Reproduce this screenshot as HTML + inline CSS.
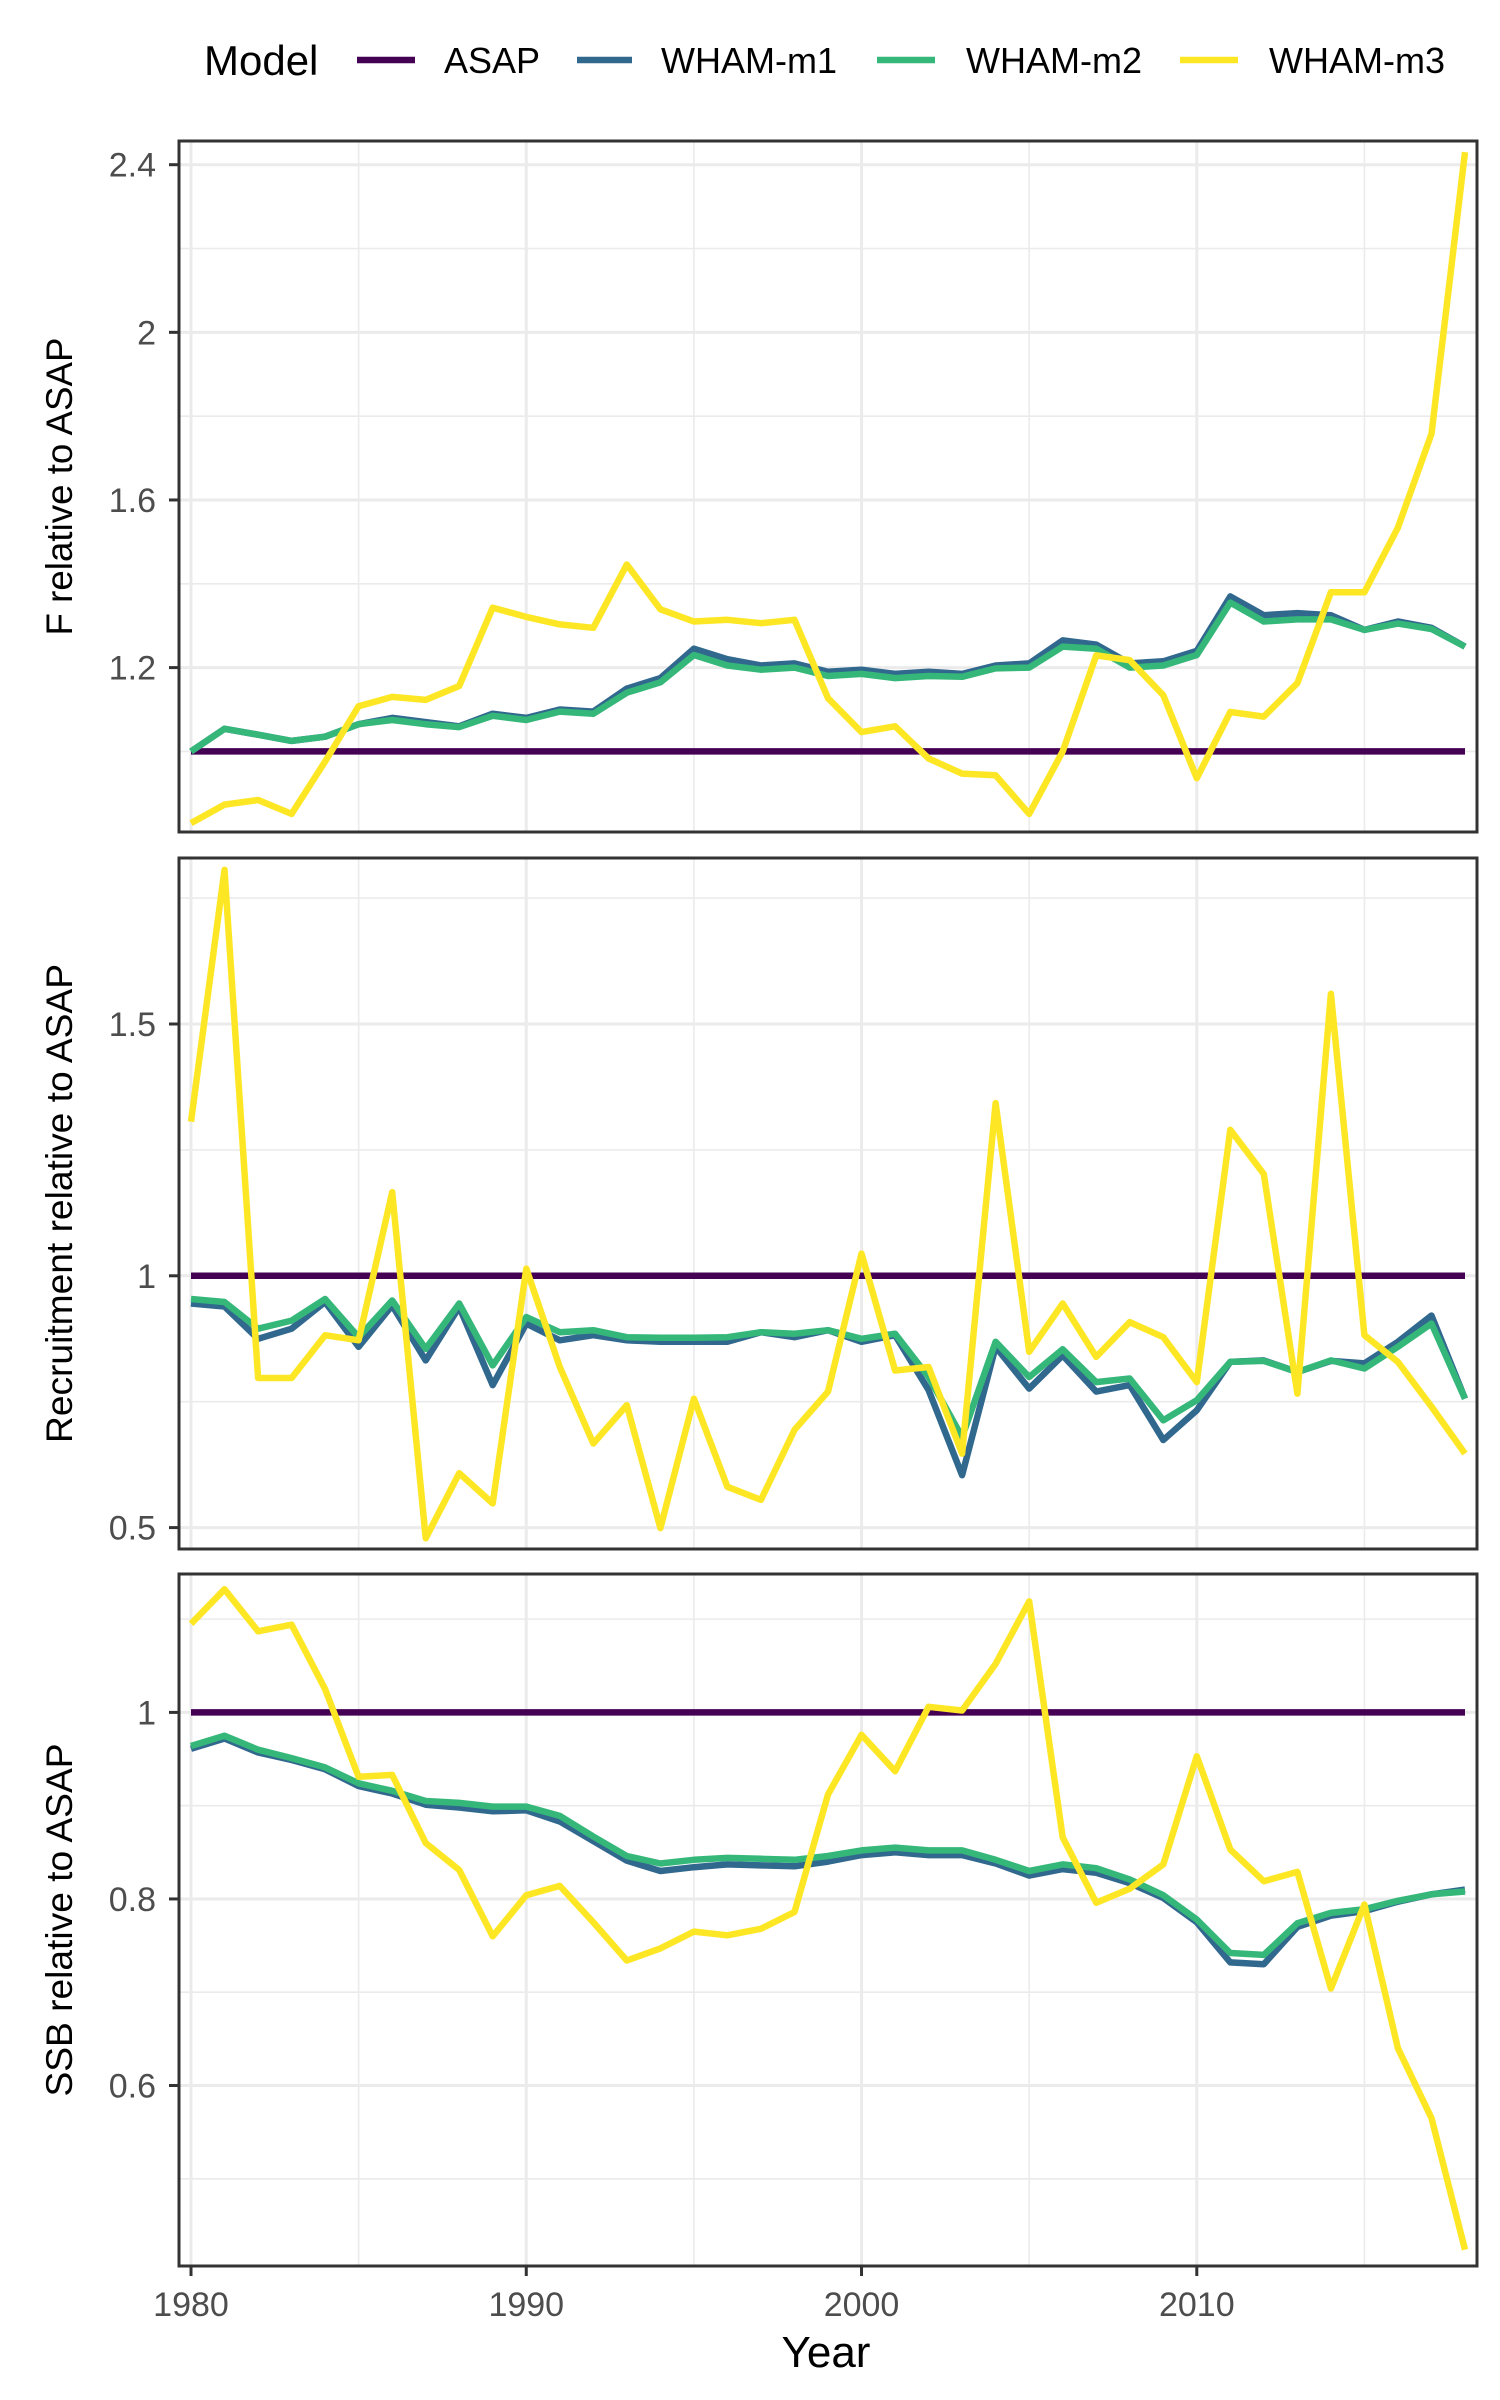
<!DOCTYPE html>
<html><head><meta charset="utf-8"><style>
html,body{margin:0;padding:0;background:#fff;}
svg{display:block;font-family:"Liberation Sans",Arial,sans-serif;}
</style></head><body>
<svg id="chart" width="1500" height="2400" viewBox="0 0 1500 2400"></svg>
<script>
const years = [];
for (let y = 1980; y <= 2018; y++) years.push(y);
const modelNames = ["ASAP","WHAM-m1","WHAM-m2","WHAM-m3"];
const modelColors = ["#440154","#31688E","#35B779","#FDE725"];

const fAsap = years.map(() => 1);
const fM1 = [1.0,1.054,1.04,1.025,1.035,1.065,1.08,1.07,1.06,1.09,1.08,1.10,1.095,1.15,1.175,1.245,1.22,1.205,1.21,1.19,1.195,1.185,1.19,1.185,1.205,1.21,1.265,1.255,1.21,1.215,1.24,1.37,1.325,1.33,1.325,1.29,1.31,1.295,1.25];
const fM2 = [1.0,1.054,1.04,1.025,1.035,1.065,1.075,1.065,1.058,1.085,1.075,1.095,1.09,1.14,1.165,1.23,1.205,1.195,1.2,1.18,1.185,1.175,1.18,1.178,1.198,1.2,1.25,1.245,1.2,1.205,1.23,1.355,1.31,1.315,1.315,1.29,1.305,1.292,1.25];
const fM3 = [0.829,0.873,0.884,0.851,0.976,1.108,1.13,1.123,1.156,1.343,1.321,1.303,1.295,1.446,1.339,1.31,1.314,1.306,1.314,1.127,1.046,1.06,0.983,0.947,0.943,0.851,1.0,1.229,1.218,1.134,0.936,1.094,1.083,1.163,1.38,1.38,1.534,1.758,2.43];

const rAsap = years.map(() => 1);
const rM1 = [0.945,0.939,0.875,0.895,0.948,0.859,0.941,0.832,0.938,0.783,0.905,0.872,0.882,0.872,0.869,0.869,0.869,0.888,0.878,0.892,0.869,0.882,0.773,0.604,0.859,0.776,0.842,0.77,0.783,0.674,0.733,0.829,0.832,0.809,0.831,0.826,0.869,0.921,0.756];
const rM2 = [0.954,0.948,0.895,0.911,0.954,0.878,0.951,0.855,0.945,0.822,0.918,0.888,0.892,0.878,0.877,0.877,0.878,0.888,0.885,0.892,0.875,0.885,0.799,0.68,0.869,0.799,0.854,0.789,0.796,0.713,0.753,0.829,0.831,0.809,0.832,0.816,0.859,0.905,0.756];
const rM3 = [1.306,1.806,0.797,0.797,0.882,0.872,1.166,0.479,0.608,0.548,1.014,0.819,0.667,0.743,0.499,0.756,0.581,0.555,0.694,0.77,1.044,0.812,0.819,0.647,1.343,0.849,0.945,0.839,0.908,0.878,0.789,1.29,1.202,0.766,1.56,0.882,0.829,0.74,0.647];

const sAsap = years.map(() => 1);
const sM1 = [0.961,0.972,0.957,0.949,0.939,0.921,0.913,0.901,0.898,0.894,0.895,0.883,0.862,0.841,0.830,0.834,0.837,0.836,0.835,0.840,0.847,0.850,0.847,0.847,0.838,0.825,0.832,0.828,0.817,0.801,0.775,0.732,0.730,0.770,0.782,0.787,0.797,0.805,0.810];
const sM2 = [0.964,0.975,0.960,0.951,0.941,0.924,0.916,0.905,0.903,0.899,0.899,0.889,0.867,0.846,0.838,0.842,0.844,0.843,0.842,0.846,0.852,0.855,0.852,0.852,0.842,0.830,0.837,0.833,0.821,0.804,0.778,0.742,0.740,0.774,0.785,0.789,0.798,0.805,0.808];
const sM3 = [1.095,1.132,1.087,1.094,1.025,0.931,0.933,0.860,0.831,0.760,0.804,0.814,0.775,0.734,0.747,0.765,0.761,0.768,0.786,0.912,0.976,0.937,1.006,1.002,1.052,1.119,0.866,0.796,0.811,0.837,0.953,0.853,0.819,0.829,0.704,0.794,0.640,0.565,0.424];

const fTicks = [1.2,1.6,2.0,2.4];
const fTickLabels = ["1.2","1.6","2","2.4"];
const fMinor = [1.0,1.4,1.8,2.2];
const rTicks = [0.5,1.0,1.5];
const rTickLabels = ["0.5","1","1.5"];
const rMinor = [0.75,1.25,1.75];
const sTicks = [0.6,0.8,1.0];
const sTickLabels = ["0.6","0.8","1"];
const sMinor = [0.5,0.7,0.9,1.1];
const xTicks = [1980,1990,2000,2010];
const xTickLabels = ["1980","1990","2000","2010"];
const xMinor = [1985,1995,2005,2015];

const NS = "http://www.w3.org/2000/svg";
const svg = document.getElementById("chart");
function mk(tag, attrs, parent) {
  const e = document.createElementNS(NS, tag);
  for (const k in attrs) e.setAttribute(k, attrs[k]);
  (parent || svg).appendChild(e);
  return e;
}
const PL = 179, PR = 1477;
function xScale(yr) { return 191 + (yr - 1980) * (1465 - 191) / 38; }

const panels = [
  {name:"f-panel", title:"F relative to ASAP", top:141, bottom:832, v1:1.2, p1:667.6, v2:2.4, p2:164.7,
   ticks:fTicks, labels:fTickLabels, minor:fMinor, series:[fAsap,fM1,fM2,fM3], tl:298},
  {name:"recruitment-panel", title:"Recruitment relative to ASAP", top:858, bottom:1549, v1:0.5, p1:1527.6, v2:1.5, p2:1024,
   ticks:rTicks, labels:rTickLabels, minor:rMinor, series:[rAsap,rM1,rM2,rM3], tl:479},
  {name:"ssb-panel", title:"SSB relative to ASAP", top:1574, bottom:2266, v1:0.6, p1:2085.5, v2:1.0, p2:1712.4,
   ticks:sTicks, labels:sTickLabels, minor:sMinor, series:[sAsap,sM1,sM2,sM3], tl:353}
];

panels.forEach((p, pi) => {
  const g = mk("g", {});
  
  
  const yS = v => p.p1 + (v - p.v1) * (p.p2 - p.p1) / (p.v2 - p.v1);
  mk("rect", {x:PL, y:p.top, width:PR-PL, height:p.bottom-p.top, fill:"#fff"}, g);
  const clip = mk("clipPath", {id:"clip"+pi}, g);
  mk("rect", {x:PL, y:p.top, width:PR-PL, height:p.bottom-p.top}, clip);
  p.minor.forEach(v => { const y = yS(v); if (y > p.top && y < p.bottom) mk("line", {x1:PL, x2:PR, y1:y, y2:y, stroke:"#ebebeb", "stroke-width":1.6}, g); });
  xMinor.forEach(v => mk("line", {x1:xScale(v), x2:xScale(v), y1:p.top, y2:p.bottom, stroke:"#ebebeb", "stroke-width":1.6}, g));
  p.ticks.forEach(v => mk("line", {x1:PL, x2:PR, y1:yS(v), y2:yS(v), stroke:"#ebebeb", "stroke-width":3}, g));
  xTicks.forEach(v => mk("line", {x1:xScale(v), x2:xScale(v), y1:p.top, y2:p.bottom, stroke:"#ebebeb", "stroke-width":3}, g));
  const lg = mk("g", {"clip-path":"url(#clip"+pi+")"}, g);
  p.series.forEach((s, si) => {
    const d = s.map((v, i) => (i ? "L" : "M") + xScale(years[i]).toFixed(1) + "," + yS(v).toFixed(1)).join("");
    const path = mk("path", {d:d, fill:"none", stroke:modelColors[si], "stroke-width":6.5, "stroke-linejoin":"round"}, lg);
    
    
  });
  mk("rect", {x:PL, y:p.top, width:PR-PL, height:p.bottom-p.top, fill:"none", stroke:"#333", "stroke-width":3}, g);
  p.ticks.forEach((v, i) => {
    mk("line", {x1:PL-10, x2:PL, y1:yS(v), y2:yS(v), stroke:"#333", "stroke-width":3}, g);
    const t = mk("text", {x:156, y:yS(v)+12, "text-anchor":"end", "font-size":34, fill:"#4d4d4d"}, g);
    t.textContent = p.labels[i];
    
    
  });
  const cy = (p.top + p.bottom) / 2;
  const tt = mk("text", {x:0, y:0, transform:"translate(72,"+cy+") rotate(-90)", "text-anchor":"middle", "font-size":37, fill:"#000", textLength:p.tl, lengthAdjust:"spacingAndGlyphs"}, g);
  tt.textContent = p.title;
  
  
});

xTicks.forEach((v, i) => {
  mk("line", {x1:xScale(v), x2:xScale(v), y1:2266, y2:2276, stroke:"#333", "stroke-width":3});
  const t = mk("text", {x:xScale(v), y:2316, "text-anchor":"middle", "font-size":34, fill:"#4d4d4d"});
  t.textContent = xTickLabels[i];
  
  
});
</script>
<div style="position:absolute;left:0;top:0;width:1500px;height:140px">
<svg width="1500" height="140" style="font-family:'Liberation Sans',Arial,sans-serif">
  <text x="204" y="75" font-size="42" fill="#000">Model</text>
  <g><line x1="357" x2="415" y1="60" y2="60" stroke="#440154" stroke-width="6.5"/><text x="444" y="73" font-size="36">ASAP</text></g>
  <g><line x1="577" x2="632" y1="60" y2="60" stroke="#31688E" stroke-width="6.5"/><text x="661" y="73" font-size="36">WHAM-m1</text></g>
  <g><line x1="877" x2="935" y1="60" y2="60" stroke="#35B779" stroke-width="6.5"/><text x="966" y="73" font-size="36">WHAM-m2</text></g>
  <g><line x1="1180" x2="1238" y1="60" y2="60" stroke="#FDE725" stroke-width="6.5"/><text x="1269" y="73" font-size="36">WHAM-m3</text></g>
</svg></div>
<div style="position:absolute;left:0;top:2328px;width:1500px;text-align:center;font-family:'Liberation Sans',Arial,sans-serif;font-size:44px;color:#000;padding-left:152px;box-sizing:border-box">Year</div>
</body></html>
